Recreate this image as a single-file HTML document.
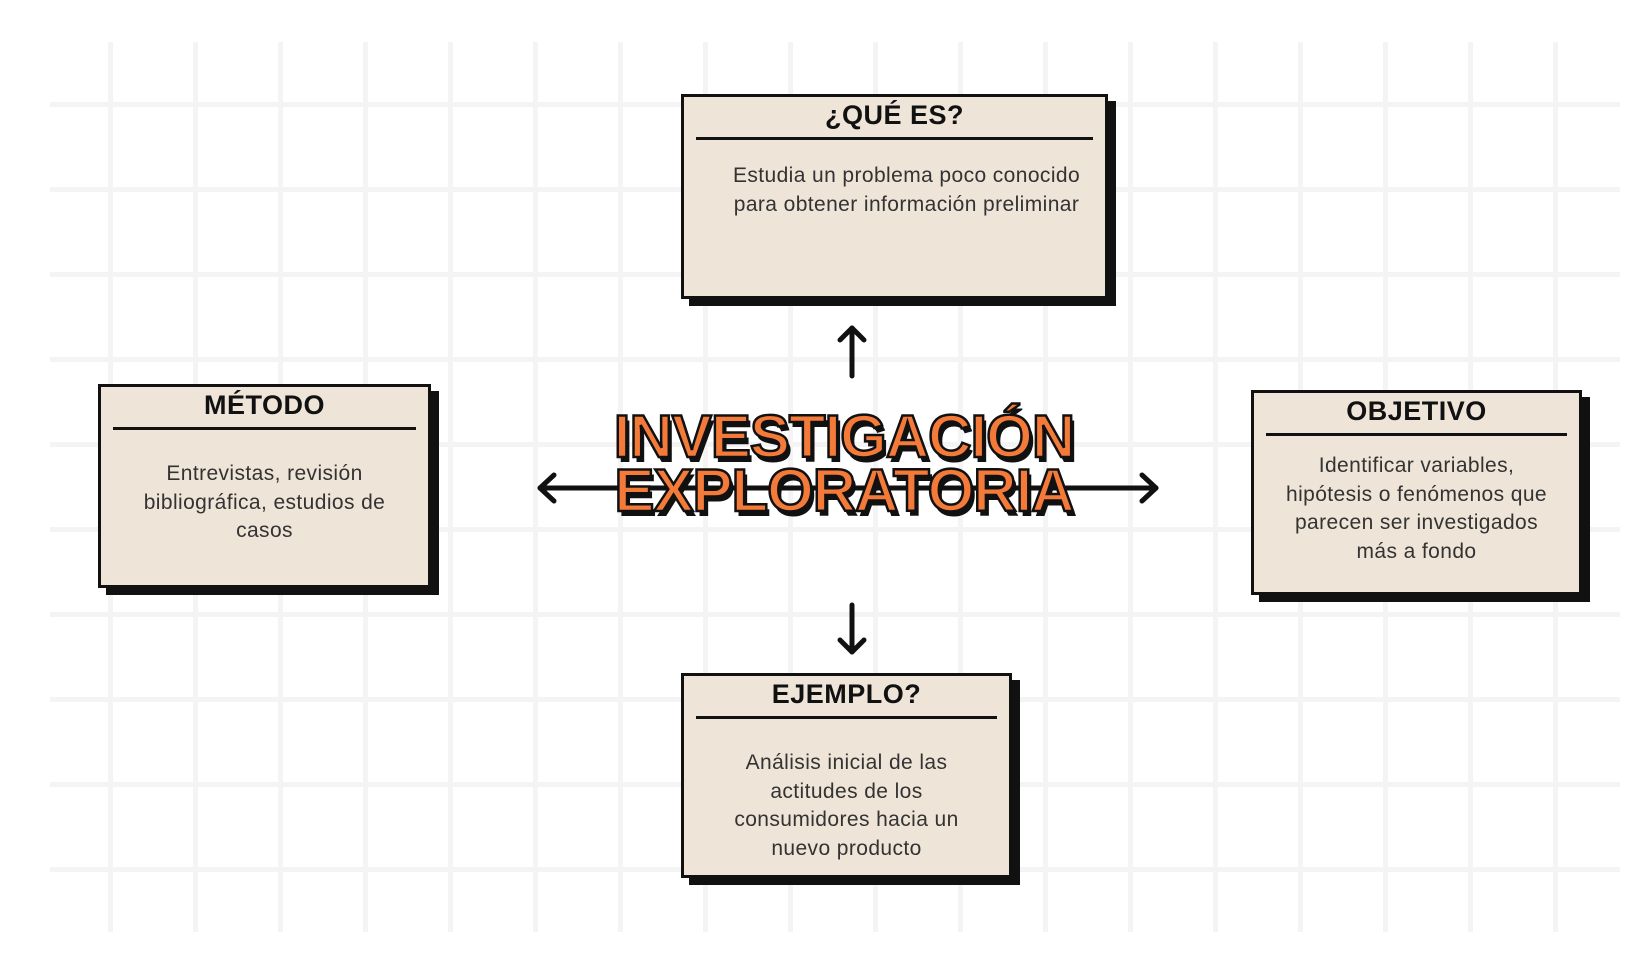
<!DOCTYPE html>
<html><head><meta charset="utf-8"><style>
body{margin:0;width:1650px;height:963px;background:#fff;position:relative;overflow:hidden;font-family:"Liberation Sans",sans-serif}
.grid{position:absolute;left:50px;top:42px;width:1570px;height:890px;
background-image:linear-gradient(to right,#f4f4f4 0 5px,transparent 5px),linear-gradient(to bottom,#f4f4f4 0 5px,transparent 5px);
background-size:85px 85px;background-position:58px 60px}
.box{position:absolute;background:#efe4d8;border:3px solid #111;box-shadow:8px 7px 0 #111;box-sizing:border-box;text-align:center;color:#333}
.box h2{margin:0;font-size:27px;font-weight:900;color:#111;height:40px;line-height:36px;border-bottom:3px solid #111;margin:0 12px;letter-spacing:0.5px}
.box p{margin:0;font-size:21px;line-height:28.5px;letter-spacing:0.4px}
.title{position:absolute;left:0;width:1688px;text-align:center;font-weight:900;font-size:60px;line-height:54px;color:#f47a3a;top:410px;letter-spacing:-1px;
-webkit-text-stroke:2.5px #111;text-shadow:3px 5px 0 #111}
</style></head><body>
<div class="grid"></div>
<svg width="1650" height="963" style="position:absolute;left:0;top:0">
<g stroke="#111" stroke-width="5" fill="none" stroke-linecap="round" stroke-linejoin="round">
<line x1="540" y1="488" x2="1156" y2="488"/>
<polyline points="554,475 540,488 554,501"/>
<polyline points="1142,475 1156,488 1142,501"/>
<line x1="852" y1="328" x2="852" y2="376"/>
<polyline points="840,340 852,328 864,340"/>
<line x1="852" y1="605" x2="852" y2="652"/>
<polyline points="840,640 852,652 864,640"/>
</g></svg>
<div class="box" style="left:681px;top:94px;width:427px;height:205px"><h2>¿QUÉ ES?</h2><p style="margin-top:22px;padding-left:24px">Estudia un problema poco conocido<br>para obtener información preliminar</p></div>
<div class="box" style="left:98px;top:384px;width:333px;height:204px"><h2>MÉTODO</h2><p style="margin-top:30px">Entrevistas, revisión<br>bibliográfica, estudios de<br>casos</p></div>
<div class="box" style="left:1251px;top:390px;width:331px;height:205px"><h2>OBJETIVO</h2><p style="margin-top:16px">Identificar variables,<br>hipótesis o fenómenos que<br>parecen ser investigados<br>más a fondo</p></div>
<div class="box" style="left:681px;top:673px;width:331px;height:205px"><h2>EJEMPLO?</h2><p style="margin-top:30px">Análisis inicial de las<br>actitudes de los<br>consumidores hacia un<br>nuevo producto</p></div>
<div class="title">INVESTIGACIÓN<br>EXPLORATORIA</div>
</body></html>
